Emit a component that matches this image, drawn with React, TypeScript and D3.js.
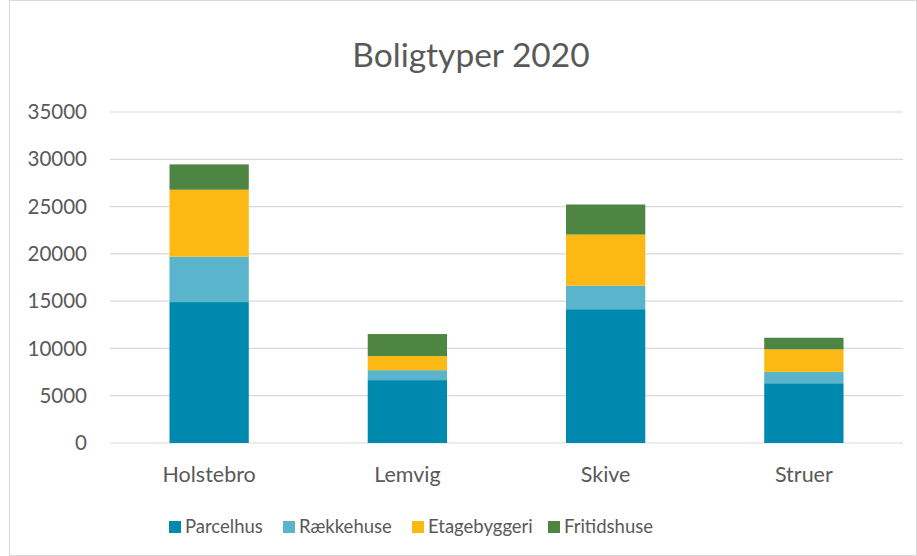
import { scaleBand, scaleLinear, stack } from "d3";

const categories = ["Holstebro", "Lemvig", "Skive", "Struer"];
const seriesNames = ["Parcelhus", "Rækkehuse", "Etagebyggeri", "Fritidshuse"];
const parcelhus = [14900, 6650, 14150, 6320];
const raekkehuse = [4800, 1050, 2480, 1200];
const etagebyggeri = [7080, 1490, 5410, 2380];
const fritidshuse = [2680, 2330, 3180, 1230];
const yTicks = [0, 5000, 10000, 15000, 20000, 25000, 30000, 35000];

const colors = ["#0089AE", "#5AB4CB", "#FDB913", "#4E8542"];
const font = "Lato, 'Open Sans', sans-serif";
const textColor = "#595959";

const rows = categories.map((c, i) => ({
  category: c,
  Parcelhus: parcelhus[i],
  Rækkehuse: raekkehuse[i],
  Etagebyggeri: etagebyggeri[i],
  Fritidshuse: fritidshuse[i],
}));

export default function App() {
  const W = 917;
  const H = 556;
  const plot = { left: 110, right: 903, top: 112, bottom: 443 };

  const x = scaleBand()
    .domain(categories)
    .range([plot.left, plot.right])
    .paddingInner(0.6)
    .paddingOuter(0.3);
  const y = scaleLinear().domain([0, 35000]).range([plot.bottom, plot.top]);

  const layers = stack().keys(seriesNames)(rows as any);
  const legendX = [169, 283, 412, 548];

  return (
    <svg
      width={W}
      height={H}
      style={{ position: "absolute", left: 0, top: 0, background: "#fff" }}
    >
      <rect x={9.5} y={0.5} width={W - 10} height={H - 1} fill="#fff" stroke="#d9d9d9" />
      <text
        x={471}
        y={67}
        textAnchor="middle"
        fontFamily={font}
        fontSize={33.5}
        fill={textColor}
      >
        Boligtyper 2020
      </text>

      {yTicks.map((t) => (
        <g key={t}>
          <line
            x1={plot.left}
            x2={plot.right}
            y1={y(t)}
            y2={y(t)}
            stroke="#d9d9d9"
            strokeWidth={1.2}
          />
          <text
            x={87}
            y={y(t)}
            dy="0.35em"
            textAnchor="end"
            fontFamily={font}
            fontSize={20.5}
            fill={textColor}
          >
            {t}
          </text>
        </g>
      ))}

      {layers.map((layer, si) => (
        <g key={layer.key} fill={colors[si]}>
          {layer.map((d, ci) => (
            <rect
              key={categories[ci]}
              x={x(categories[ci])}
              y={y(d[1])}
              width={x.bandwidth()}
              height={y(d[0]) - y(d[1])}
            />
          ))}
        </g>
      ))}

      {categories.map((c) => (
        <text
          key={c}
          x={(x(c) as number) + x.bandwidth() / 2}
          y={482}
          textAnchor="middle"
          fontFamily={font}
          fontSize={21.5}
          fill={textColor}
        >
          {c}
        </text>
      ))}

      {seriesNames.map((s, i) => (
        <g key={s} transform={`translate(${legendX[i]}, 527)`}>
          <rect x={0} y={-6} width={12} height={12} fill={colors[i]} />
          <text
            x={16}
            y={0}
            dy="0.35em"
            fontFamily={font}
            fontSize={18.5}
            fill={textColor}
          >
            {s}
          </text>
        </g>
      ))}
    </svg>
  );
}
